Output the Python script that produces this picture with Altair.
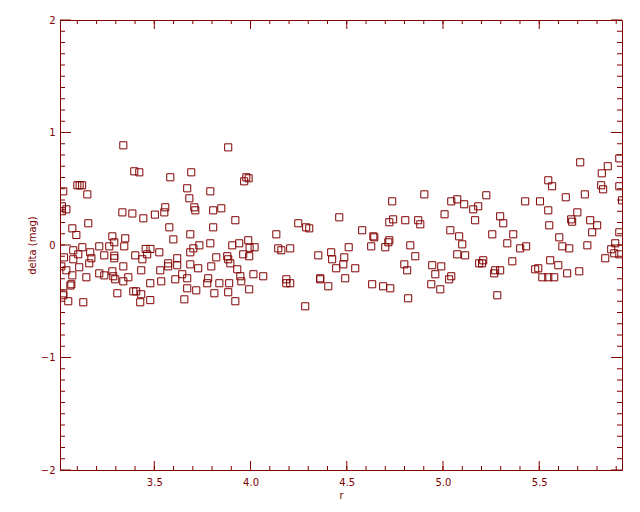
import altair as alt
import pandas as pd

MAROON = "#800000"

r = [
 3.339,3.396,3.422,3.100,3.112,3.125,3.027,3.152,3.020,3.020,3.043,3.334,3.386,3.443,3.503,3.157,3.074,3.095,3.282,3.349,
 3.292,3.126,3.214,3.266,3.344,3.455,3.480,3.079,3.167,3.105,3.240,3.292,3.292,3.401,3.463,3.031,3.079,3.173,3.438,3.162,
 3.017,3.110,3.339,3.043,3.214,3.240,3.282,3.287,3.297,3.432,3.074,3.147,3.365,3.339,3.069,3.064,3.479,3.308,3.391,3.406,
 3.432,3.027,3.027,3.053,3.131,3.427,3.479,
 3.884,3.583,3.692,3.967,3.978,3.990,3.671,3.682,3.791,3.557,3.552,3.708,3.713,3.806,3.848,3.921,3.578,3.806,3.687,3.599,
 3.791,3.734,3.905,3.941,3.988,3.703,3.687,3.526,3.822,3.879,3.884,3.895,3.962,3.995,4.021,3.993,3.619,3.619,3.572,3.572,
 3.687,3.728,3.796,3.531,3.931,3.645,3.947,3.952,4.015,3.671,3.609,3.536,3.780,3.775,3.838,3.889,3.671,3.718,3.812,3.884,
 3.993,3.656,3.921,
 4.461,4.248,4.289,4.305,4.134,4.144,4.160,4.206,4.352,4.419,4.424,4.445,4.487,4.482,4.510,4.066,4.186,4.186,4.206,4.362,
 4.362,4.404,4.492,4.284,
 4.903,4.736,4.741,4.721,4.804,4.871,4.882,5.008,4.580,4.638,4.643,4.721,4.716,4.627,4.700,4.830,4.856,4.544,4.799,4.814,
 4.944,4.960,4.991,4.632,4.689,4.726,4.939,4.986,4.819,
 5.225,5.043,5.074,5.110,5.157,5.183,5.167,5.297,5.313,5.427,5.504,5.038,5.084,5.100,5.256,5.365,5.334,5.401,5.432,5.074,
 5.115,5.360,5.188,5.203,5.209,5.271,5.266,5.297,5.479,5.495,5.043,5.032,5.282,
 5.713,5.856,5.825,5.916,5.547,5.567,5.822,5.832,5.916,5.930,5.638,5.737,5.547,5.698,5.666,5.671,5.765,5.801,5.775,5.552,
 5.604,5.620,5.656,5.750,5.895,5.874,5.890,5.916,5.916,5.843,5.557,5.599,5.708,5.645,5.516,5.547,5.578,
]

delta = [
 0.886,0.655,0.646,0.531,0.531,0.531,0.477,0.450,0.344,0.300,0.317,0.290,0.280,0.237,0.270,0.193,0.148,0.089,0.077,0.059,
 0.024,-0.020,-0.012,-0.012,-0.012,-0.035,-0.035,-0.047,-0.065,-0.083,-0.092,-0.095,-0.118,-0.092,-0.083,-0.110,-0.127,-0.118,-0.127,-0.163,
 -0.190,-0.198,-0.190,-0.225,-0.252,-0.270,-0.234,-0.278,-0.305,-0.225,-0.270,-0.287,-0.287,-0.323,-0.349,-0.360,-0.340,-0.429,-0.412,-0.412,
 -0.438,-0.447,-0.430,-0.500,-0.509,-0.509,-0.490,
 0.868,0.602,0.646,0.566,0.602,0.593,0.504,0.415,0.477,0.335,0.290,0.335,0.308,0.308,0.326,0.220,0.157,0.157,0.095,0.050,
 0.015,-0.003,-0.003,0.015,0.042,-0.030,-0.065,-0.065,-0.110,-0.100,-0.127,-0.163,-0.083,-0.025,-0.020,-0.100,-0.118,-0.180,-0.163,-0.190,
 -0.172,-0.207,-0.190,-0.225,-0.216,-0.260,-0.278,-0.323,-0.260,-0.296,-0.305,-0.323,-0.296,-0.340,-0.340,-0.340,-0.385,-0.403,-0.429,-0.420,
 -0.394,-0.483,-0.500,
 0.246,0.193,0.157,0.148,0.095,-0.030,-0.047,-0.030,-0.092,-0.065,-0.127,-0.207,-0.110,-0.172,-0.020,-0.278,-0.305,-0.340,-0.340,-0.296,
 -0.305,-0.367,-0.296,-0.545,
 0.450,0.388,0.228,0.202,0.220,0.220,0.184,0.273,0.131,0.077,0.068,0.042,0.024,-0.012,-0.020,-0.003,-0.100,-0.207,-0.172,-0.225,
 -0.180,-0.260,-0.190,-0.349,-0.367,-0.385,-0.349,-0.394,-0.474,
 0.442,0.388,0.406,0.362,0.317,0.344,0.220,0.255,0.193,0.388,0.388,0.131,0.077,0.006,0.095,0.095,0.015,-0.030,-0.012,-0.083,
 -0.092,-0.145,-0.163,-0.163,-0.136,-0.225,-0.252,-0.225,-0.216,-0.207,-0.278,-0.305,-0.447,
 0.735,0.700,0.637,0.770,0.575,0.522,0.531,0.495,0.522,0.397,0.424,0.450,0.308,0.290,0.228,0.207,0.220,0.175,0.113,0.175,
 0.068,-0.012,-0.030,-0.003,0.015,-0.038,-0.074,0.113,-0.083,-0.118,-0.136,-0.180,-0.234,-0.252,-0.287,-0.287,-0.287,
]

x_major = [3.5, 4.0, 4.5, 5.0, 5.5]
x_minor = [round(3.1 + 0.1 * i, 1) for i in range(29)]
y_major = [-2, -1, 0, 1, 2]
y_minor = [round(-1.9 + 0.1 * i, 1) for i in range(39)]

W, H = 562, 450
X_DOMAIN = [3.01, 5.93]
Y_DOMAIN = [-2, 2]

pts = pd.DataFrame({"r": r, "delta": delta})
xs = alt.Scale(domain=X_DOMAIN, nice=False, zero=False)
ys = alt.Scale(domain=Y_DOMAIN, nice=False, zero=False)

x_axis = alt.Axis(values=x_major, format=".1f", title="r", ticks=False, domain=False,
                  grid=False, labelPadding=7, titlePadding=3)
y_axis = alt.Axis(values=y_major, format="d", title="delta (mag)", ticks=False, domain=False,
                  grid=False, labelPadding=5, titlePadding=3)

points = alt.Chart(pts).mark_point(shape="square", filled=False, size=50, strokeWidth=1,
                                   color=MAROON, clip=True, opacity=1).encode(
    x=alt.X("r:Q", scale=xs, axis=x_axis),
    y=alt.Y("delta:Q", scale=ys, axis=y_axis),
)

def xticks(vals, length):
    df = pd.DataFrame({"r": vals})
    base = alt.Chart(df).mark_rule(color=MAROON, strokeWidth=1)
    bottom = base.encode(x=alt.X("r:Q", scale=xs, axis=x_axis), y=alt.value(H), y2=alt.value(H - length))
    top = base.encode(x=alt.X("r:Q", scale=xs, axis=x_axis), y=alt.value(0), y2=alt.value(length))
    return [bottom, top]

def yticks(vals, length):
    df = pd.DataFrame({"delta": vals})
    base = alt.Chart(df).mark_rule(color=MAROON, strokeWidth=1)
    left = base.encode(y=alt.Y("delta:Q", scale=ys, axis=y_axis), x=alt.value(0), x2=alt.value(length))
    right = base.encode(y=alt.Y("delta:Q", scale=ys, axis=y_axis), x=alt.value(W), x2=alt.value(W - length))
    return [left, right]

layers = xticks(x_major, 9) + xticks(x_minor, 4) + yticks(y_major, 11) + yticks(y_minor, 5) + [points]

chart = alt.layer(*layers).properties(
    width=W, height=H,
    autosize=alt.AutoSizeParams(type="none"),
    padding={"left": 52, "top": 12, "right": 10, "bottom": 30},
    background="white",
).configure_view(
    stroke=MAROON, strokeWidth=1
).configure_axis(
    labelFont="DejaVu Sans", labelFontSize=10, labelColor=MAROON,
    titleFont="DejaVu Sans", titleFontSize=10, titleColor=MAROON, titleFontWeight="normal",
)

chart.save("out.html", embed_options={"renderer": "svg", "actions": False})
